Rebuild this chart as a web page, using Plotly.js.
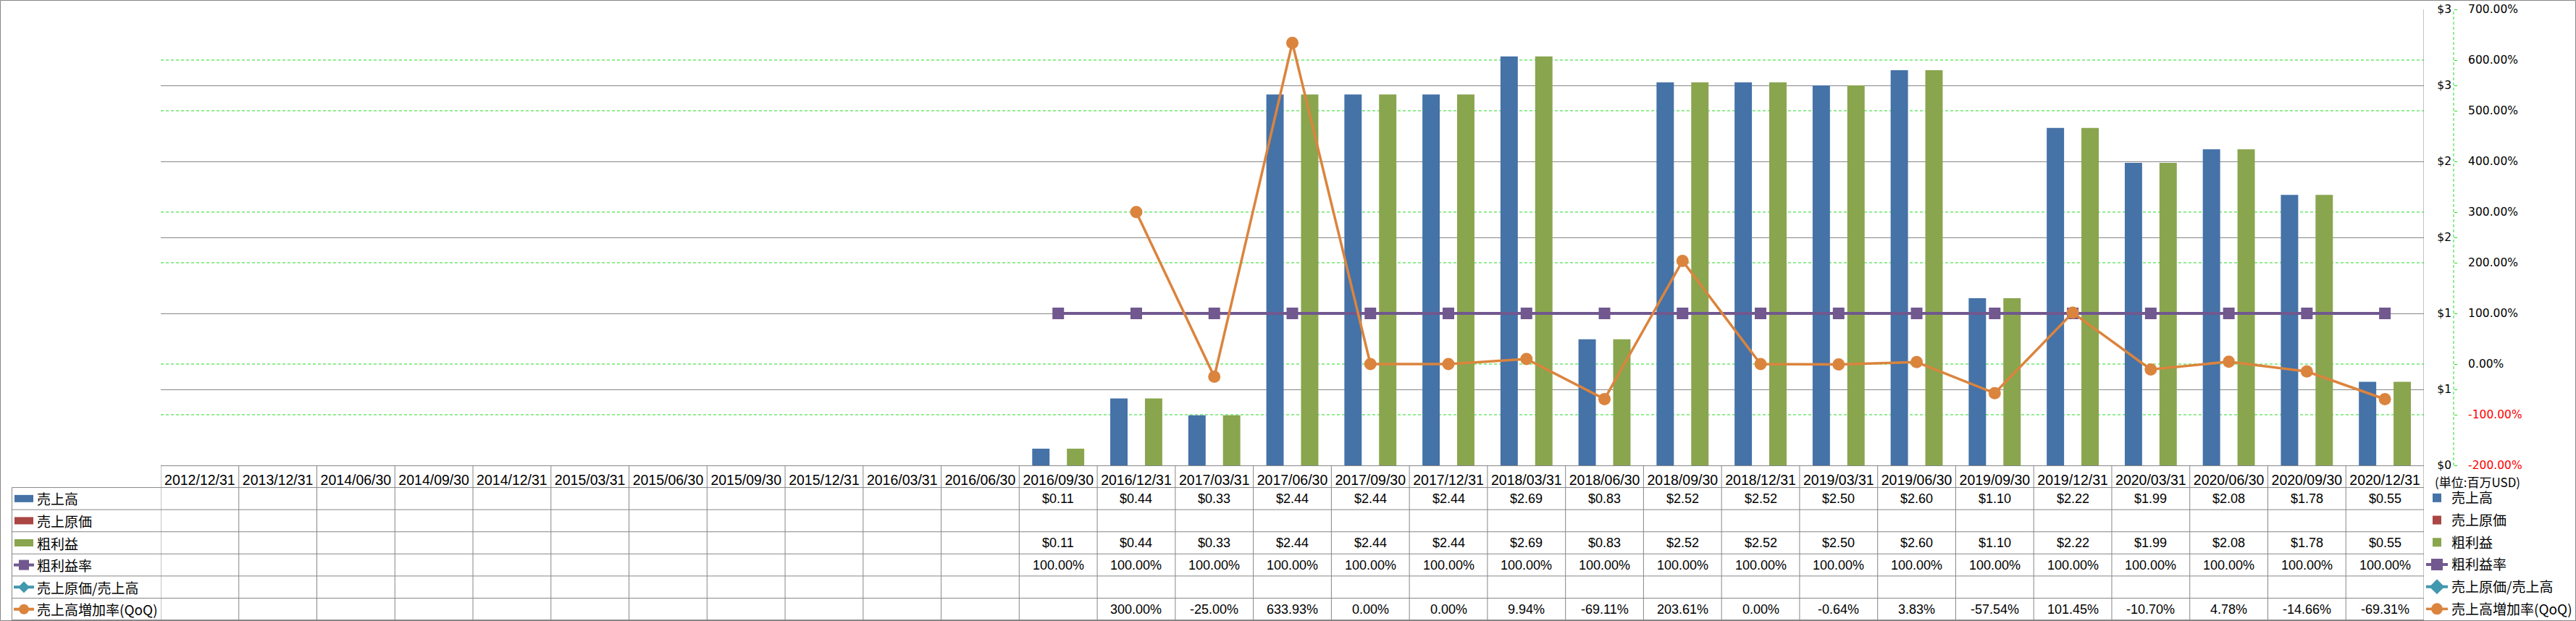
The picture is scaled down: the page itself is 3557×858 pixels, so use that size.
<!DOCTYPE html>
<html>
<head>
<meta charset="utf-8">
<script src="https://cdn.plot.ly/plotly-3.0.1.min.js"></script>
<style>
html,body{margin:0;padding:0;background:#fff;}
#chart{width:3557px;height:858px;}
</style>
</head>
<body>
<div id="chart"></div>
<script>
// ---------------- data ----------------
const categories = ['2012/12/31','2013/12/31','2014/06/30','2014/09/30','2014/12/31','2015/03/31','2015/06/30','2015/09/30','2015/12/31','2016/03/31','2016/06/30','2016/09/30','2016/12/31','2017/03/31','2017/06/30','2017/09/30','2017/12/31','2018/03/31','2018/06/30','2018/09/30','2018/12/31','2019/03/31','2019/06/30','2019/09/30','2019/12/31','2020/03/31','2020/06/30','2020/09/30','2020/12/31'];
const sales = [null,null,null,null,null,null,null,null,null,null,null,0.11,0.44,0.33,2.44,2.44,2.44,2.69,0.83,2.52,2.52,2.50,2.60,1.10,2.22,1.99,2.08,1.78,0.55];
const costOfSales = [null,null,null,null,null,null,null,null,null,null,null,null,null,null,null,null,null,null,null,null,null,null,null,null,null,null,null,null,null];
const grossProfit = [null,null,null,null,null,null,null,null,null,null,null,0.11,0.44,0.33,2.44,2.44,2.44,2.69,0.83,2.52,2.52,2.50,2.60,1.10,2.22,1.99,2.08,1.78,0.55];
const grossMarginPct = [null,null,null,null,null,null,null,null,null,null,null,100,100,100,100,100,100,100,100,100,100,100,100,100,100,100,100,100,100];
const costRatioPct = [null,null,null,null,null,null,null,null,null,null,null,null,null,null,null,null,null,null,null,null,null,null,null,null,null,null,null,null,null];
const salesGrowthQoQPct = [null,null,null,null,null,null,null,null,null,null,null,null,300.00,-25.00,633.93,0.00,0.00,9.94,-69.11,203.61,0.00,-0.64,3.83,-57.54,101.45,-10.70,4.78,-14.66,-69.31];
const seriesNames = ['売上高','売上原価','粗利益','粗利益率','売上原価/売上高','売上高増加率(QoQ)'];
const leftTickVals = [0,0.5,1,1.5,2,2.5,3];
const leftTickText = ['$0','$1','$1','$2','$2','$3','$3'];
const rightTickVals = [-200,-100,0,100,200,300,400,500,600,700];
const rightTickText = ['-200.00%','-100.00%','0.00%','100.00%','200.00%','300.00%','400.00%','500.00%','600.00%','700.00%'];
const unitLabel = '(単位:百万USD)';

// ---------------- geometry / style ----------------
const W = 3557, H = 858;
const PL = 222, PR = 3347, PT = 13, PB = 643, AXR = 3388;
const paperW = AXR - PL, paperH = PB - PT;
const px2x = p => (p - PL) / paperW;
const py2y = p => (PB - p) / paperH;
const ROWH = (857 - 643) / 7;
const rowTop = k => 643 + k * ROWH;
const rowMid = k => rowTop(k) + ROWH / 2;

const GRAY = '#878787';
const GREEN = '#22dd22';
const C_BLUE = '#4572A7', C_RED = '#AA4643', C_GREEN = '#89A54E',
      C_PURPLE = '#71588F', C_TEAL = '#4198AF', C_ORANGE = '#DB843D';
const CJK = 'Noto Sans CJK JP';
const TXT = 'Liberation Sans, Noto Sans CJK JP';
const AXF = 'DejaVu Sans';

// ---------------- traces ----------------
const BW = 2/9;
const traces = [
  {type:'bar', name:seriesNames[0], x:categories, y:sales, yaxis:'y', marker:{color:C_BLUE}, width:BW, offset:-1/3, legendgroup:'g0'},
  {type:'bar', name:seriesNames[1], x:categories, y:costOfSales, yaxis:'y', marker:{color:C_RED}, width:BW, offset:-1/9, legendgroup:'g1'},
  {type:'bar', name:seriesNames[2], x:categories, y:grossProfit, yaxis:'y', marker:{color:C_GREEN}, width:BW, offset:1/9, legendgroup:'g2'},
  {type:'scatter', mode:'lines+markers', name:seriesNames[3], x:categories, y:grossMarginPct, yaxis:'y2',
   line:{color:C_PURPLE, width:4}, marker:{symbol:'square', size:16, color:C_PURPLE}, legendgroup:'g3'},
  {type:'scatter', mode:'lines+markers', name:seriesNames[4], x:categories, y:costRatioPct, yaxis:'y2',
   line:{color:C_TEAL, width:4}, marker:{symbol:'diamond', size:16, color:C_TEAL}, legendgroup:'g4'},
  {type:'scatter', mode:'lines+markers', name:seriesNames[5], x:categories, y:salesGrowthQoQPct, yaxis:'y2',
   line:{color:C_ORANGE, width:3.5}, marker:{symbol:'circle', size:17, color:C_ORANGE}, legendgroup:'g5'}
];

// ---------------- shapes ----------------
const shapes = [];
// green dashed gridlines of the percent axis (those not hidden under grey gridlines)
[-100, 0, 200, 300, 500, 600].forEach(v => {
  shapes.push({type:'line', xref:'x', yref:'y2', x0:-0.5, x1:categories.length-0.5, y0:v, y1:v,
    layer:'below', line:{color:GREEN, width:1, dash:'4px,3px'}});
});
// secondary axis line (dashed green)
shapes.push({type:'line', xref:'paper', yref:'paper', x0:1, x1:1, y0:0, y1:1, line:{color:GREEN, width:1, dash:'4px,3px'}});
// table vertical lines at category boundaries
for (let i = 0; i <= categories.length; i++) {
  const last = i === categories.length;
  shapes.push({type:'line', xref:'x', yref:'paper', x0:i-0.5, x1:i-0.5,
    y0:py2y(856.5), y1: last ? py2y(PT) : py2y(PB), line:{color:GRAY, width:1}});
}
// legend column left border
shapes.push({type:'line', xref:'paper', yref:'paper', x0:px2x(16.5), x1:px2x(16.5), y0:py2y(rowTop(1)), y1:py2y(856.5), line:{color:GRAY, width:1}});
// horizontal row lines
for (let k = 1; k <= 6; k++) {
  shapes.push({type:'line', xref:'paper', yref:'paper', x0:px2x(16.5), x1:px2x(PR), y0:py2y(rowTop(k)), y1:py2y(rowTop(k)), line:{color:GRAY, width:1}});
}
shapes.push({type:'line', xref:'paper', yref:'paper', x0:px2x(16.5), x1:px2x(PR), y0:py2y(856.5), y1:py2y(856.5), line:{color:GRAY, width:1}});
// outer chart border
shapes.push({type:'rect', xref:'paper', yref:'paper', x0:px2x(0.5), x1:px2x(W-0.5), y0:py2y(H-0.5), y1:py2y(0.5), line:{color:GRAY, width:1}});

// legend keys inside the data table
const keyColors = [C_BLUE, C_RED, C_GREEN, C_PURPLE, C_TEAL, C_ORANGE];
for (let s = 0; s < 6; s++) {
  const cy = rowMid(s + 1);
  if (s < 3) {
    shapes.push({type:'rect', xref:'paper', yref:'paper', x0:px2x(20), x1:px2x(46), y0:py2y(cy+5), y1:py2y(cy-5), line:{width:0}, fillcolor:keyColors[s]});
  } else {
    shapes.push({type:'line', xref:'paper', yref:'paper', x0:px2x(19), x1:px2x(47), y0:py2y(cy), y1:py2y(cy), line:{color:keyColors[s], width:4}});
    const cx = 33, r = 7;
    if (s === 3) {
      shapes.push({type:'rect', xref:'paper', yref:'paper', x0:px2x(cx-r), x1:px2x(cx+r), y0:py2y(cy+r), y1:py2y(cy-r), line:{width:0}, fillcolor:keyColors[s]});
    } else if (s === 4) {
      const p = `M ${px2x(cx-r-1)},${py2y(cy)} L ${px2x(cx)},${py2y(cy-r-1)} L ${px2x(cx+r+1)},${py2y(cy)} L ${px2x(cx)},${py2y(cy+r+1)} Z`;
      shapes.push({type:'path', xref:'paper', yref:'paper', path:p, line:{width:0}, fillcolor:keyColors[s]});
    } else {
      shapes.push({type:'circle', xref:'paper', yref:'paper', x0:px2x(cx-r), x1:px2x(cx+r), y0:py2y(cy+r), y1:py2y(cy-r), line:{width:0}, fillcolor:keyColors[s]});
    }
  }
}

// ---------------- annotations (table text) ----------------
const annotations = [];
const fmtMoney = v => '$' + v.toFixed(2);
const fmtPct = v => v.toFixed(2) + '%';
const rows = [
  {data:sales, fmt:fmtMoney},
  {data:costOfSales, fmt:fmtMoney},
  {data:grossProfit, fmt:fmtMoney},
  {data:grossMarginPct, fmt:fmtPct},
  {data:costRatioPct, fmt:fmtPct},
  {data:salesGrowthQoQPct, fmt:fmtPct}
];
rows.forEach((r, k) => {
  r.data.forEach((v, i) => {
    if (v === null) return;
    annotations.push({xref:'x', yref:'paper', x:i, y:py2y(rowMid(k+1)), text:r.fmt(v), showarrow:false,
      xanchor:'center', yanchor:'middle', font:{family:TXT, size:18, color:'#000'}});
  });
});
seriesNames.forEach((n, k) => {
  annotations.push({xref:'paper', yref:'paper', x:px2x(49), y:py2y(rowMid(k+1)), text:n, showarrow:false,
    xanchor:'left', yanchor:'middle', font:{family:CJK, size:19, color:'#000'}});
});
annotations.push({xref:'paper', yref:'paper', x:px2x(3360), y:py2y(665), text:unitLabel, showarrow:false,
  xanchor:'left', yanchor:'middle', font:{family:CJK, size:17, color:'#000'}});

// ---------------- layout ----------------
const rightTickTextStyled = rightTickVals.map((v, i) => v < 0 ? `<span style="color:#ff0000">${rightTickText[i]}</span>` : rightTickText[i]);

const layout = {
  width: W, height: H,
  margin: {l:PL, r:W-AXR, t:PT, b:H-PB, pad:0, autoexpand:false},
  paper_bgcolor:'#ffffff', plot_bgcolor:'rgba(0,0,0,0)',
  barmode:'overlay',
  showlegend:true,
  legend:{x:px2x(3345), y:py2y(669), xanchor:'left', yanchor:'top', font:{family:CJK, size:19, color:'#000'},
    tracegroupgap:3, bgcolor:'rgba(0,0,0,0)', borderwidth:0},
  xaxis:{type:'category', domain:[0, px2x(PR)], range:[-0.5, categories.length-0.5], showgrid:false,
    showline:true, linecolor:GRAY, linewidth:1, ticks:'', tickangle:0, ticklabelstandoff:3,
    tickfont:{family:TXT, size:19.5, color:'#000'}, fixedrange:true, automargin:false, zeroline:false},
  yaxis:{range:[0,3], tickmode:'array', tickvals:leftTickVals, ticktext:leftTickText,
    side:'right', anchor:'free', position:1, ticklabelposition:'inside', ticklabeloverflow:'allow',
    ticks:'outside', ticklen:4, tickcolor:GREEN, tickwidth:1, showline:false,
    showgrid:true, gridcolor:GRAY, gridwidth:1, zeroline:false,
    tickfont:{family:AXF, size:15.5, color:'#000'}, automargin:false, fixedrange:true},
  yaxis2:{range:[-200,700], overlaying:'y', side:'right', anchor:'free', position:1,
    tickmode:'array', tickvals:rightTickVals, ticktext:rightTickTextStyled,
    ticks:'outside', ticklen:4, tickcolor:GREEN, tickwidth:1, ticklabelstandoff:12,
    showgrid:false, zeroline:false, showline:false,
    tickfont:{family:AXF, size:15.5, color:'#000'}, automargin:false, fixedrange:true},
  shapes: shapes,
  annotations: annotations
};

Plotly.newPlot('chart', traces, layout, {displayModeBar:false, staticPlot:true});
</script>
</body>
</html>
